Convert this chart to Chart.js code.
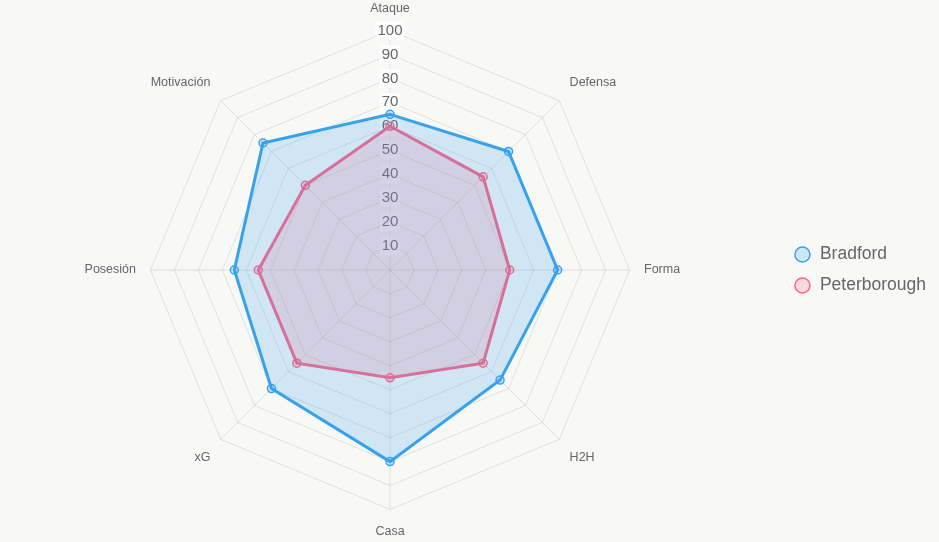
<!DOCTYPE html>
<html>
<head>
<meta charset="utf-8">
<script src="https://cdn.jsdelivr.net/npm/chart.js@4"></script>
<style>
  html, body { margin: 0; padding: 0; background: #f8f8f7; }
  #wrap { width: 939px; height: 542px; }
</style>
</head>
<body>
<div id="wrap"><canvas id="radar"></canvas></div>
<script>
// Radar categories and values
const labels = ['Ataque', 'Defensa', 'Forma', 'H2H', 'Casa', 'xG', 'Posesión', 'Motivación'];
const bradford = [65, 70, 70, 65, 80, 70, 65, 75];
const peterborough = [60, 55, 50, 55, 45, 55, 55, 50];
const teamNames = ['Bradford', 'Peterborough'];

const FONT = 'Arial, "Liberation Sans", sans-serif';

function team(name, values, rgb) {
  return {
    label: name,
    data: values,
    borderColor: `rgb(${rgb})`,
    backgroundColor: `rgba(${rgb}, 0.2)`,
    pointBackgroundColor: `rgba(${rgb}, 0.2)`,
    pointBorderColor: `rgb(${rgb})`,
    borderWidth: 3,
    pointRadius: 4,
    pointBorderWidth: 1.5,
    fill: true
  };
}

new Chart(document.getElementById('radar'), {
  type: 'radar',
  data: {
    labels,
    datasets: [
      team(teamNames[0], bradford, '54, 162, 235'),
      team(teamNames[1], peterborough, '255, 99, 132')
    ]
  },
  options: {
    responsive: true,
    maintainAspectRatio: false,
    animation: false,
    layout: { padding: { top: 1, bottom: 3, right: 3 } },
    plugins: {
      legend: {
        position: 'right',
        labels: {
          usePointStyle: true,
          pointStyle: 'circle',
          boxHeight: 10.6,
          color: '#666',
          font: { family: FONT, size: 17.5 },
          padding: 13.5,
          generateLabels(chart) {
            const items = Chart.defaults.plugins.legend.labels.generateLabels(chart);
            items.forEach(it => { it.lineWidth = 1.5; it.pointStyle = 'circle'; });
            return items;
          }
        }
      },
      tooltip: { enabled: false }
    },
    scales: {
      r: {
        min: 0,
        max: 100,
        ticks: {
          stepSize: 10,
          color: '#666',
          font: { family: FONT, size: 15 },
          backdropColor: 'rgba(255,255,255,0.75)'
        },
        grid: { color: 'rgba(0,0,0,0.1)' },
        angleLines: { color: 'rgba(0,0,0,0.1)' },
        pointLabels: {
          color: '#666',
          font: { family: FONT, size: 12.5 }
        }
      }
    }
  }
});
</script>
</body>
</html>
